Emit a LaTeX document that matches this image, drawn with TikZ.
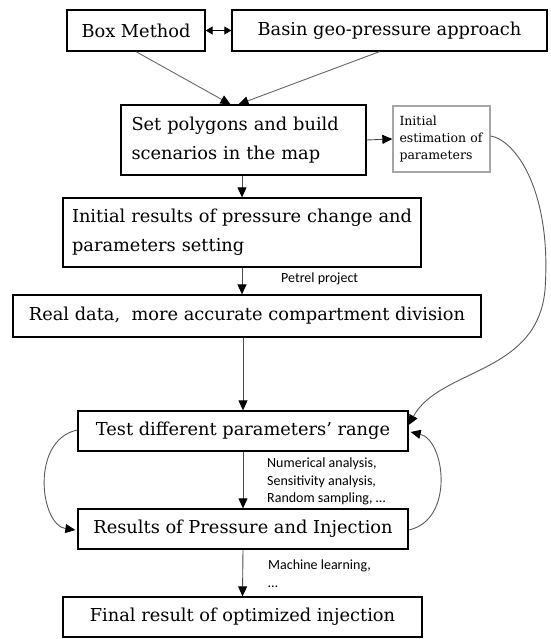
\documentclass[tikz,border=0pt]{standalone}
\usepackage{fontspec}
\setmainfont{DejaVu Serif}
\newfontfamily\smallsans{Carlito}
\usetikzlibrary{arrows.meta}
\begin{document}
\begin{tikzpicture}[x=1pt,y=1pt,
  box/.style={draw=black,line width=1.3pt,inner sep=0pt,font=\fontsize{17.8}{29}\selectfont},
  gbox/.style={draw=black!35,line width=1.3pt,inner sep=0pt,font=\fontsize{12.5}{17}\selectfont,align=left},
  lab/.style={font=\smallsans\fontsize{14}{17.5}\selectfont,align=left,anchor=north west,inner sep=0pt},
  arr/.style={draw=black!70,line width=0.9pt,-{Triangle[length=10pt,width=9pt,fill=black,color=black]}}]
\useasboundingbox (0,0) rectangle (550,-639);
\node[box,minimum width=138,minimum height=41] (bm) at (136,-30.5) {Box Method};
\node[box,minimum width=315,minimum height=41] (basin) at (389.5,-30.5) {Basin geo-pressure approach};
\node[box,minimum width=245,minimum height=70,align=left,text width=224] (poly) at (243.5,-140) {Set polygons and build\\scenarios in the map};
\node[gbox,minimum width=97,minimum height=66,text width=84] (init) at (441.5,-139) {Initial\\estimation of\\parameters};
\node[box,minimum width=358,minimum height=69,align=left,text width=340] (res0) at (242,-232.5) {\mbox{Initial results of pressure change and}\\parameters setting};
\node[box,minimum width=468,minimum height=42] (real) at (247,-316) {Real data,\ \ more accurate compartment division};
\node[box,minimum width=330,minimum height=40] (test) at (243,-431) {Test different parameters’ range};
\node[box,minimum width=330,minimum height=40] (rpi) at (243,-529) {Results of Pressure and Injection};
\node[box,minimum width=359,minimum height=40] (final) at (242.5,-617) {Final result of optimized injection};
\node[lab] (l1) at (281,-273) {Petrel project};
\node[lab] (l2) at (267,-458) {Numerical analysis,\\Sensitivity analysis,\\Random sampling, …};
\node[lab] (l3) at (268,-560) {Machine learning,\\…};
% connectors
\draw[black,line width=0.9pt,{Triangle[length=7pt,width=8pt]}-{Triangle[length=7pt,width=8pt]}] (bm.east) -- (basin.west);
\draw[arr,draw=black!60] (bm.south) -- ([xshift=-13]poly.north);
\draw[arr,draw=black!60] ([xshift=-10]basin.south) -- ([xshift=-5]poly.north);
\draw[arr] (poly.east) -- (init.west);
\draw[arr] (poly.south -| res0.north) -- (res0.north);
\draw[arr] (res0.south) -- (res0.south |- real.north);
\draw[arr] (real.south -| test.north) -- (test.north);
\draw[arr] (test.south) -- (rpi.north);
\draw[arr] (rpi.south) -- (final.north);
\draw[arr,draw=black!65] ([yshift=3]init.east) .. controls (515,-140) and (552,-190) .. (545,-290) .. controls (537,-375) and (440,-368) .. ([yshift=6]test.east);
\draw[arr,draw=black!65] ([yshift=1]test.west) .. controls (30,-440) and (40,-525) .. ([xshift=-2,yshift=-1]rpi.west);
\draw[arr,draw=black!65] ([yshift=-1]rpi.east) .. controls (455,-520) and (445,-440) .. ([xshift=2,yshift=-1]test.east);
\end{tikzpicture}
\end{document}
